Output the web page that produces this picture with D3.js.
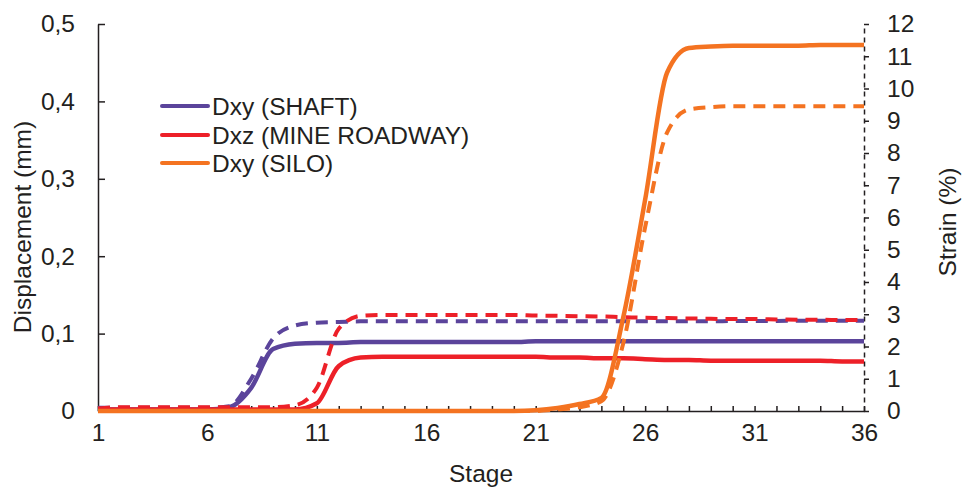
<!DOCTYPE html>
<html>
<head>
<meta charset="utf-8">
<script src="https://cdn.jsdelivr.net/npm/d3@7/dist/d3.min.js"></script>
<style>
body { margin: 0; background: #fff; }
text { font-family: "Liberation Sans", Arial, sans-serif; fill: #231f20; }
</style>
</head>
<body>
<div class="chart"></div>
<script>
// stages on the x axis
const stages = [1,2,3,4,5,6,7,8,9,10,11,12,13,14,15,16,17,18,19,20,21,22,23,24,25,26,27,28,29,30,31,32,33,34,35,36]
const stageTicks = [1,6,11,16,21,26,31,36]
const dispTicks = [0,0.1,0.2,0.3,0.4,0.5]
const dispTickLabels = ['0','0,1','0,2','0,3','0,4','0,5']
const strainTicks = [0,1,2,3,4,5,6,7,8,9,10,11,12]

// displacement (mm), solid lines, left axis
const shaftDisp = [0.002,0.002,0.002,0.002,0.002,0.002,0.005,0.03,0.08,0.087,0.088,0.088,0.089,0.089,0.089,0.089,0.089,0.089,0.089,0.089,0.09,0.09,0.09,0.09,0.09,0.09,0.09,0.09,0.09,0.09,0.09,0.09,0.09,0.09,0.09,0.09]
const roadwayDisp = [0.002,0.002,0.002,0.002,0.002,0.002,0.002,0.002,0.002,0.002,0.01,0.058,0.069,0.07,0.07,0.07,0.07,0.07,0.07,0.07,0.07,0.069,0.069,0.068,0.068,0.067,0.066,0.066,0.065,0.065,0.065,0.065,0.065,0.065,0.064,0.064]
const siloDisp = [0,0,0,0,0,0,0,0,0,0,0,0,0,0,0,0,0,0,0,0,0.001,0.004,0.009,0.017,0.121,0.273,0.437,0.469,0.471,0.472,0.472,0.472,0.472,0.473,0.473,0.473]

// strain (%), dashed lines, right axis
const shaftStrain = [0.1,0.1,0.1,0.1,0.1,0.1,0.15,1.0,2.25,2.65,2.74,2.76,2.78,2.78,2.78,2.78,2.78,2.78,2.78,2.78,2.78,2.78,2.78,2.78,2.78,2.78,2.78,2.78,2.78,2.79,2.79,2.79,2.8,2.8,2.8,2.8]
const roadwayStrain = [0.08,0.12,0.12,0.12,0.12,0.12,0.12,0.12,0.12,0.18,0.72,2.55,2.95,2.98,2.98,2.98,2.98,2.98,2.98,2.98,2.96,2.95,2.94,2.93,2.91,2.89,2.88,2.87,2.86,2.85,2.85,2.84,2.83,2.83,2.82,2.82]
const siloStrain = [0,0,0,0,0,0,0,0,0,0,0,0,0,0,0,0,0,0,0,0,0,0.05,0.12,0.3,2.1,5.7,8.63,9.35,9.42,9.45,9.45,9.45,9.45,9.45,9.45,9.45]

const legendNames = ['Dxy (SHAFT)','Dxz (MINE ROADWAY)','Dxy (SILO)']
const colors = ['#5b449b','#ed2028','#f47321']

const width = 962
const height = 488
const plotL = 98, plotR = 864, plotT = 24, plotB = 411
const fontSize = '24.5px'

let svg = d3.select('.chart')
  .append('svg')
  .attr('width',width)
  .attr('height',height)

let x = d3.scaleLinear().domain([1,36]).range([plotL,plotR])
let yL = d3.scaleLinear().domain([0,0.5]).range([plotB,plotT])
let yR = d3.scaleLinear().domain([0,12]).range([plotB,plotT])

// axes
let gx = svg.append('g')
  .attr('transform','translate(0,'+plotB+')')
  .call(d3.axisBottom(x).tickValues(stages).tickSizeInner(-5).tickSizeOuter(0).tickPadding(13)
    .tickFormat(d => stageTicks.includes(d) ? d : ''))
let gl = svg.append('g')
  .attr('transform','translate('+plotL+',0)')
  .call(d3.axisLeft(yL).tickValues(dispTicks).tickSizeInner(-7).tickSizeOuter(0).tickPadding(23)
    .tickFormat((d,i) => dispTickLabels[i]))
let gr = svg.append('g')
  .attr('transform','translate('+plotR+',0)')
  .call(d3.axisRight(yR).tickValues(strainTicks).tickSizeInner(5).tickSizeOuter(0).tickPadding(18))

svg.selectAll('.domain').attr('stroke','#231f20').attr('stroke-width',1.5)
svg.selectAll('.tick line').attr('stroke','#231f20').attr('stroke-width',1.5)
gr.select('.domain').attr('stroke-dasharray','5,4')
svg.selectAll('.tick text').style('font-size',fontSize).attr('fill','#231f20')

// axis titles
svg.append('text')
  .attr('x',(plotL+plotR)/2)
  .attr('y',482)
  .attr('text-anchor','middle')
  .style('font-size',fontSize)
  .text('Stage')
svg.append('text')
  .attr('transform','translate(31,227) rotate(-90)')
  .attr('text-anchor','middle')
  .style('font-size',fontSize)
  .text('Displacement (mm)')
svg.append('text')
  .attr('transform','translate(956,222) rotate(-90)')
  .attr('text-anchor','middle')
  .style('font-size',fontSize)
  .text('Strain (%)')

// lines
const series = [
  {v: shaftDisp, s: yL, c: 0, dash: null},
  {v: shaftStrain, s: yR, c: 0, dash: '12,8'},
  {v: roadwayDisp, s: yL, c: 1, dash: null},
  {v: roadwayStrain, s: yR, c: 1, dash: '12,8'},
  {v: siloDisp, s: yL, c: 2, dash: null},
  {v: siloStrain, s: yR, c: 2, dash: '12,8'}
]

series.forEach(sr => {
  let line = d3.line()
    .x((d,i) => x(stages[i]))
    .y(d => sr.s(d))
    .curve(d3.curveMonotoneX)
  svg.append('path')
    .datum(sr.v)
    .attr('d',line)
    .attr('fill','none')
    .attr('stroke',colors[sr.c])
    .attr('stroke-width',sr.dash ? 4 : 4.5)
    .attr('stroke-dasharray',sr.dash)
})

// legend
const legendY = [106,135,163]
svg.selectAll('.leg-line')
  .data(legendNames)
  .enter()
  .append('line')
  .attr('x1',162)
  .attr('x2',208)
  .attr('y1',(d,i) => legendY[i])
  .attr('y2',(d,i) => legendY[i])
  .attr('stroke',(d,i) => colors[i])
  .attr('stroke-width',4)
  .attr('stroke-linecap','round')
svg.selectAll('.leg-text')
  .data(legendNames)
  .enter()
  .append('text')
  .attr('x',212)
  .attr('y',(d,i) => legendY[i])
  .attr('dy','0.36em')
  .style('font-size',fontSize)
  .text(d => d)
</script>
</body>
</html>
